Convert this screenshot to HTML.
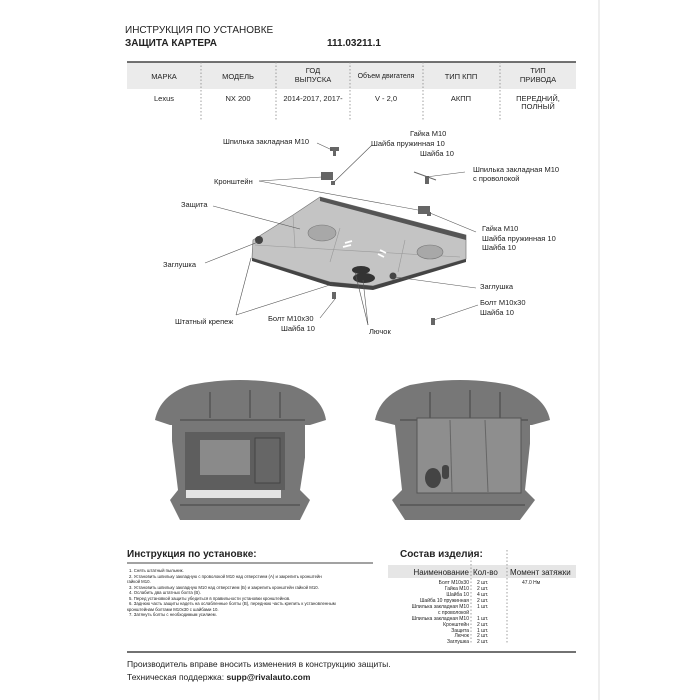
<!DOCTYPE html>
<html><head><meta charset="utf-8"><style>
html,body{margin:0;padding:0;background:#fff}
svg{display:block}
text{font-family:"Liberation Sans","DejaVu Sans",sans-serif;fill:#222}
</style></head><body>
<svg width="700" height="700" viewBox="0 0 700 700" xmlns="http://www.w3.org/2000/svg">
<rect width="700" height="700" fill="#fff"/>
<line x1="599" y1="0" x2="599" y2="700" stroke="#ddd" stroke-width="1"/>
<text x="125" y="33" font-size="10">ИНСТРУКЦИЯ ПО УСТАНОВКЕ</text>
<text x="125" y="46" font-size="10" font-weight="bold">ЗАЩИТА КАРТЕРА</text>
<text x="327" y="46" font-size="10" font-weight="bold">111.03211.1</text>
<rect x="127" y="62" width="449" height="27" fill="#ebebeb"/>
<line x1="127" y1="62" x2="576" y2="62" stroke="#444" stroke-width="1.5"/>
<g stroke="#888" stroke-width="0.8" stroke-dasharray="1.5,2">
<line x1="201" y1="62" x2="201" y2="120"/><line x1="276" y1="62" x2="276" y2="120"/>
<line x1="350" y1="62" x2="350" y2="120"/><line x1="423" y1="62" x2="423" y2="120"/>
<line x1="500" y1="62" x2="500" y2="120"/>
</g>
<g font-size="7.5" text-anchor="middle">
<text x="164" y="79">МАРКА</text><text x="238" y="79">МОДЕЛЬ</text>
<text x="313" y="73">ГОД</text><text x="313" y="82">ВЫПУСКА</text>
<text x="386" y="78" font-size="7">Объем двигателя</text>
<text x="461" y="79">ТИП КПП</text>
<text x="538" y="73">ТИП</text><text x="538" y="82">ПРИВОДА</text>
<text x="164" y="101">Lexus</text><text x="238" y="101">NX 200</text>
<text x="313" y="101">2014-2017, 2017-</text><text x="386" y="101">V - 2,0</text>
<text x="461" y="101">АКПП</text>
<text x="538" y="101">ПЕРЕДНИЙ,</text><text x="538" y="109">ПОЛНЫЙ</text>
</g>
<polygon points="253,240 293,215 320,197 466,235 466,259 373,286 330,282 252,258" fill="#c4c4c4" stroke="#777" stroke-width="0.7"/>
<polygon points="320,197 466,235 466,240 320,201" fill="#555"/>
<polygon points="252,258 330,282 373,286 466,259 466,262 373,290 330,286 252,261" fill="#444"/>
<g stroke="#999" stroke-width="0.6" fill="none"><line x1="293" y1="215" x2="295" y2="248"/><line x1="340" y1="228" x2="330" y2="262"/><line x1="405" y1="240" x2="398" y2="272"/><line x1="255" y1="245" x2="460" y2="257"/></g>
<ellipse cx="322" cy="233" rx="14" ry="8" fill="#a8a8a8" stroke="#777" stroke-width="0.6"/>
<ellipse cx="430" cy="252" rx="13" ry="7" fill="#a8a8a8" stroke="#777" stroke-width="0.6"/>
<g stroke="#fff" stroke-width="1.8"><line x1="345" y1="243" x2="352" y2="241"/><line x1="343" y1="247" x2="351" y2="245"/><line x1="380" y1="250" x2="386" y2="253"/><line x1="378" y1="254" x2="384" y2="257"/></g>
<ellipse cx="361" cy="270" rx="9" ry="4" fill="#333"/><ellipse cx="364" cy="278" rx="11" ry="5" fill="#333"/>
<circle cx="259" cy="240" r="4" fill="#444"/><circle cx="393" cy="276" r="3.5" fill="#444"/>
<g fill="#666"><rect x="330" y="147" width="9" height="4"/><rect x="333" y="150" width="3" height="6"/>
<rect x="321" y="172" width="12" height="8"/><rect x="331" y="181" width="4" height="4"/>
<rect x="418" y="206" width="12" height="8"/><rect x="427" y="212" width="4" height="4"/>
<rect x="425" y="176" width="4" height="8"/><line x1="414" y1="172" x2="436" y2="180" stroke="#666"/>
<rect x="332" y="292" width="4" height="7"/><rect x="431" y="318" width="4" height="7"/></g>
<g stroke="#555" stroke-width="0.6" fill="none">
<line x1="317" y1="143" x2="332" y2="150"/>
<line x1="372" y1="145" x2="334" y2="182"/>
<line x1="259" y1="181" x2="322" y2="177"/><line x1="259" y1="181" x2="418" y2="210"/>
<line x1="465" y1="172" x2="426" y2="177"/>
<line x1="476" y1="232" x2="430" y2="213"/>
<line x1="213" y1="206" x2="300" y2="229"/>
<line x1="205" y1="263" x2="258" y2="242"/>
<line x1="476" y1="288" x2="395" y2="277"/>
<line x1="236" y1="315" x2="251" y2="258"/><line x1="236" y1="315" x2="333" y2="284"/>
<line x1="320" y1="318" x2="335" y2="299"/>
<line x1="368" y1="325" x2="355" y2="272"/><line x1="368" y1="325" x2="363" y2="280"/>
<line x1="478" y1="305" x2="434" y2="320"/>
</g>
<g font-size="7.5">
<text x="223" y="144">Шпилька закладная М10</text>
<text x="410" y="136">Гайка М10</text><text x="371" y="146">Шайба пружинная 10</text><text x="420" y="156">Шайба 10</text>
<text x="473" y="172">Шпилька закладная М10</text><text x="473" y="181">с проволокой</text>
<text x="214" y="184">Кронштейн</text>
<text x="181" y="207">Защита</text>
<text x="482" y="231">Гайка М10</text><text x="482" y="241">Шайба пружинная 10</text><text x="482" y="250">Шайба 10</text>
<text x="163" y="267">Заглушка</text>
<text x="480" y="289">Заглушка</text>
<text x="480" y="305">Болт М10х30</text><text x="480" y="315">Шайба 10</text>
<text x="175" y="324">Штатный крепеж</text>
<text x="268" y="321">Болт М10х30</text><text x="281" y="331">Шайба 10</text>
<text x="369" y="334">Лючок</text>
</g>
<!-- Photos -->
<g fill="#777">
<path d="M155,420 Q160,395 190,385 Q240,375 290,385 Q322,395 326,420 L310,425 L300,490 L310,500 L300,520 L180,520 L170,500 L178,490 L170,425 Z"/>
<path d="M375,420 Q380,395 410,385 Q460,375 510,385 Q545,395 550,420 L532,425 L525,490 L535,500 L520,520 L405,520 L392,500 L402,490 L395,425 Z"/>
</g>
<g fill="#fff">
<rect x="160" y="425" width="12" height="70"/><rect x="305" y="425" width="16" height="65"/>
<rect x="378" y="425" width="14" height="70"/><rect x="530" y="425" width="18" height="65"/>
</g>
<g stroke="#555" stroke-width="1.5" fill="none">
<line x1="180" y1="420" x2="305" y2="420"/><line x1="180" y1="505" x2="300" y2="505"/>
<line x1="400" y1="420" x2="528" y2="420"/><line x1="400" y1="505" x2="525" y2="505"/>
<line x1="210" y1="392" x2="210" y2="418"/><line x1="250" y1="390" x2="250" y2="418"/><line x1="280" y1="392" x2="280" y2="418"/>
<line x1="430" y1="392" x2="430" y2="418"/><line x1="470" y1="390" x2="470" y2="418"/><line x1="500" y1="392" x2="500" y2="418"/>
</g>
<rect x="185" y="432" width="100" height="58" fill="#5e5e5e"/>
<rect x="200" y="440" width="50" height="35" fill="#8a8a8a"/>
<rect x="255" y="438" width="25" height="45" fill="#666" stroke="#444"/>
<rect x="186" y="490" width="95" height="8" fill="#fff" opacity="0.8"/>
<rect x="417" y="418" width="104" height="75" fill="#8e8e8e" stroke="#555"/>
<line x1="450" y1="420" x2="452" y2="492" stroke="#666"/><line x1="485" y1="420" x2="488" y2="492" stroke="#666"/>
<ellipse cx="433" cy="478" rx="8" ry="10" fill="#444"/>
<rect x="442" y="465" width="7" height="14" rx="3" fill="#444"/>
<text x="127" y="557" font-size="10" font-weight="bold">Инструкция по установке:</text>
<line x1="127" y1="563" x2="373" y2="563" stroke="#444" stroke-width="1"/>
<g font-size="4.3" fill="#444">
<text x="129" y="572">1. Снять штатный пыльник.</text>
<text x="129" y="578">2. Установить шпильку закладную с проволокой М10  над отверстием (А) и закрепить кронштейн</text>
<text x="127" y="583">гайкой М10.</text>
<text x="129" y="589">3. Установить шпильку закладную М10  над отверстием (Б) и закрепить кронштейн гайкой М10.</text>
<text x="129" y="594">4. Ослабить два штатных болта (В).</text>
<text x="129" y="600">5. Перед установкой защиты убедиться в правильности установки кронштейнов.</text>
<text x="129" y="605">6. Заднюю часть защиты надеть на ослабленные болты (В), переднюю часть крепить к установленным</text>
<text x="127" y="611">кронштейнам болтами М10х30 с шайбами 10.</text>
<text x="129" y="616">7. Затянуть болты с необходимым усилием.</text>
</g>
<text x="400" y="557" font-size="10" font-weight="bold">Состав изделия:</text>
<rect x="388" y="565" width="188" height="13" fill="#e6e6e6"/>
<g stroke="#888" stroke-width="0.8" stroke-dasharray="1.5,2">
<line x1="471" y1="550" x2="471" y2="643"/><line x1="507" y1="550" x2="507" y2="643"/>
</g>
<g font-size="8" text-anchor="end"><text x="469" y="575">Наименование</text></g>
<text x="473" y="575" font-size="8">Кол-во</text>
<text x="510" y="575" font-size="8">Момент затяжки</text>
<g font-size="5" fill="#444" text-anchor="end">
<text x="469" y="584">Болт М10х30</text><text x="469" y="590">Гайка М10</text><text x="469" y="596">Шайба 10</text>
<text x="469" y="602">Шайба 10 пружинная</text><text x="469" y="608">Шпилька закладная М10</text><text x="469" y="614">с проволокой</text>
<text x="469" y="620">Шпилька закладная М10</text><text x="469" y="626">Кронштейн</text><text x="469" y="632">Защита</text>
<text x="469" y="637">Лючок</text><text x="469" y="643">Заглушка</text>
</g>
<g font-size="5" fill="#444">
<text x="477" y="584">2 шт.</text><text x="477" y="590">2 шт.</text><text x="477" y="596">4 шт.</text><text x="477" y="602">2 шт.</text>
<text x="477" y="608">1 шт.</text><text x="477" y="620">1 шт.</text><text x="477" y="626">2 шт.</text><text x="477" y="632">1 шт.</text>
<text x="477" y="637">2 шт.</text><text x="477" y="643">2 шт.</text>
<text x="522" y="584">47.0 Нм</text>
</g>
<line x1="127" y1="652" x2="576" y2="652" stroke="#444" stroke-width="1.5"/>
<text x="127" y="667" font-size="8.5">Производитель вправе вносить изменения в конструкцию защиты.</text>
<text x="127" y="680" font-size="8.5">Техническая поддержка: <tspan font-weight="bold">supp@rivalauto.com</tspan></text>
</svg>
</body></html>
